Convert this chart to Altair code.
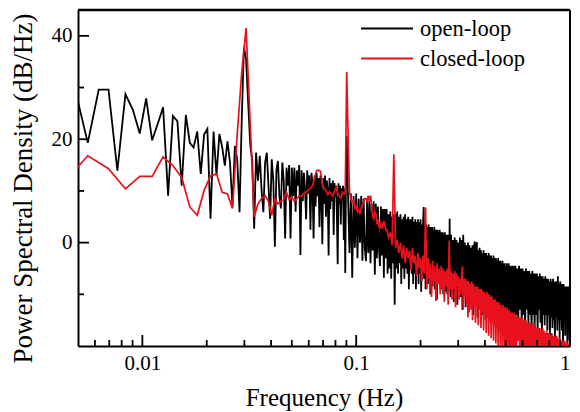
import altair as alt
import pandas as pd

# ---------------- data ----------------
# open-loop PSD, frequency bins k/1440 Hz
open_k_a = list(range(7, 60))
open_v_a = [29.4, 19.3, 29.6, 29.6, 13.9, 28.7, 25.7, 21.1, 27.9, 19.8,
            23.0, 26.2, 9.1, 24.5, 23.5, 11.0, 24.7, 19.3, 18.4, 21.5,
            13.3, 20.9, 22.0, 4.6, 21.5, 13.0, 21.0, 18.5, 14.9, 19.6,
            15.5, 7.0, 18.7, 16.0, 5.9, 24.0, 37.8, 35.5, 27.0, 19.0,
            16.0, 2.7, 17.4, 12.0, 16.8, 10.0, 5.9, 15.5, 17.4, 11.0,
            4.6, 16.1, 12.0]
open_k_b = list(range(60, 130))
open_v_b = [-0.8, 14, 15.8, 9, 6.6, 15.5, 12, 0.8, 14.5, 11,
            15, 0.8, 14.5, 9, 14.5, 6, 14, 11, 15, -2.4,
            14, 8, 13.5, 10.5, 4.5, 14, 9.5, 13, 2.5, 13.5,
            11, 0.8, 13, 7, 13.5, 9, 12.5, 3, 13, 9.5,
            -0.3, 12.5, 7.5, 13, 5, 12, 10, -2.5, 12.5, 6.5,
            11.5, 8, 12, 1.5, 11.5, 9, 11, 5, -4.2, 11.5,
            7.5, 11, 3.5, 10.5, 8.5, 11, 0.5, 10.5, -5.9, 12]
open_k_c = list(range(130, 200, 2))
open_v_c = [20.6, 8.5, -2.0, 9.5, -6.8, 9.0, -1.0, 9.5, -3.0, 8.5,
            0.0, 9.0, -3.5, 8.5, -1.0, -3.6, 8.5, -2.0, 8.0, -4.0,
            7.5, -1.5, 8.0, -6.2, 7.5, -3.0, 7.0, -1.0, -4.5, 7.0,
            -2.5, 6.5, -6.8, 6.5, -3.0]
open_k_d = list(range(200, 400, 2))
open_v_d = [6.5, -6, 5.5, -5, 6.0, -7, 5.0, -4, 5.5, -12,
            5.5, -5, 6.0, -6, 5.0, -4, 5.5, -8, 4.5, -5,
            5.0, -7, 5.5, -5, 4.5, -6, 5.0, -9, 4.5, -5,
            4.5, -6, 5.0, -8, 4.0, -6, 4.5, -9, 4.0, -6,
            4.5, -8, 4.0, -6, 4.5, -9.5, 3.5, -7, 4.0, 6.9,
            -7, 3.5, -9, 3.5, -7, 3.0, -8, 3.5, -6, 3.0,
            -10, 3.0, -7, 3.0, -8.5, 2.5, -7, 3.0, -9, 2.5,
            -7, 2.5, -11, 2.5, -8, 2.0, -8, 2.5, -7, 2.0,
            -9, 2.0, -8, 2.0, -10, 1.5, -8, 2.0, -9.5, 1.5,
            -8, 1.5, -10, 1.5, -8, 1.5, -9, 4.6, -8, -10.5]
open_k_e = list(range(400, 800, 4))
open_v_e = [1.5, -10, 0.5, -11.5, 1.0, -9, 0.5, -12, 0.0, -10,
            1.0, -10.5, 0.5, -13, 1.5, -10, 0.0, -12.5, -0.5, -11,
            0.0, -13.5, -0.5, -11, -1.0, -12, -0.5, -14, -1.0, 0.2,
            -12, -1.0, 0.1, -14.5, -1.5, -11, -1.0, -13, -1.5, -12,
            -2.0, -14, -1.5, -11, -2.0, -15, -2.0, -12, -2.5, -14,
            -2.0, -12, -2.5, -15.5, -2.5, -13, -3.0, -14.5, -2.5, -12.5,
            -3.0, -16, -3.0, -13, -3.5, -15, -3.0, -13, -3.5, -16.5,
            -3.5, -13.5, -4.0, -15.5, -3.5, -13, -4.0, -17, -4.0, -14,
            -4.5, -16, -4.0, -14, -4.5, -17.5, -4.0, -14.5, -4.5, -16.5,
            -4.5, -14, -5.0, -17, -4.5, -15, -5.0, -16, -4.5, -15]
open_k_f = list(range(800, 1441, 8))
open_v_f = [-4.5, -14, -5.0, -17, -4.5, -13, -5.0, -16.5, -5.0, -14,
            -5.5, -17.5, -5.0, -13, -5.5, -16, -5.5, -14, -6.0, -18,
            -5.5, -14, -6.0, -16.5, -6.0, -14, -6.0, -17.5, -6.5, -13,
            -6.0, -15.5, -6.5, -18, -6.5, -14, -7.0, -16, -6.5, -14,
            -7.0, -17, -7.0, -14, -7.5, -18.5, -7.0, -14.5, -7.5, -16.5,
            -7.0, -15, -7.5, -19, -7.5, -14.5, -7.5, -17, -6.5, -15,
            -8.0, -18.5, -7.5, -15, -8.0, -17, -8.0, -20.5, -8.0, -15,
            -8.5, -18, -8.5, -15.5, -8.5, -20.5, -8.5, -16, -8.5, -19,
            -8.5]

# closed-loop PSD, frequency bins j/720 Hz
closed_j_a = list(range(3, 30))
closed_v_a = [11, 16.8, 14.3, 10.4, 12.8, 12.8, 16.6, 14.9, 12.6, 6.9,
              5.3, 10.1, 12.9, 13.3, 9.75, 9.4, 6.6, 21, 33, 41.5,
              23, 5.0, 7.5, 8.5, 9.1, 8.0, 5.3]
closed_j_b = list(range(30, 100))
closed_v_b = [8.5, 7.5, 8.0, 8.3, 9.75, 8.3, 8.8, 8.0, 8.5, 9.1,
              9.0, 9.5, 9.75, 10.2, 10.5, 11.0, 12.5, 13.9, 14.0, 13.8,
              11.5, 10.4, 10.0, 9.3, 9.8, 9.4, 9.0, 9.9, 10.7, 9.5,
              9.1, 8.6, 9.75, 9.4, 9.5, 33.0, 21.0, 9.75, 8.5, 7.8,
              8.2, 6.6, 7.0, 6.0, 6.4, 5.5, 6.8, 7.5, 8.0, 8.5,
              8.5, 8.0, 9.1, 8.0, 9.1, 7.5, 5.0, 4.6, 6.0, 5.5,
              3.5, 4.5, 3.0, 4.0, 2.7, 3.5, 3.0, 4.2, 3.4, 2.5]
closed_j_c = list(range(100, 200, 2))
closed_v_c = [2.5, 1.0, 2.0, -0.5, 17.1, -1.0, 0.5, -2.0, 0.0, -3.0,
              -0.5, -4.0, -1.0, -3.0, -1.5, -5.5, -1.0, -4.0, -2.5, -6.5,
              -2.0, -5.0, -3.0, -7.5, -2.5, -6.0, 6.8, -9.0, -3.0, -7.0,
              -4.0, -10.5, -3.5, -7.5, -4.5, -11.3, -4.0, -8.0, -5.0, -10.0,
              -4.5, -9.0, -5.0, -11.5, -5.5, -8.5, -5.0, -12.0, 0.4, -9.0]
closed_j_d = list(range(200, 400, 2))
closed_v_d = [-5.5, -11, -6.0, -9, -5.5, -12.5, -6.0, -8.5, -6.5, -11,
              -7.0, -10, -6.5, -4.6, -13, -7.0, -10.5, -7.0, -12, -7.5,
              -14.5, -7.5, -11, -8.0, -13, -7.5, -15, -8.0, -12, -8.5,
              -15.5, -8.5, -12.5, -8.5, -16, -9.0, -13, -9.0, -16.5, -9.0,
              -13.5, -9.5, -17, -9.5, -14, -10.0, -17.5, -9.5, -14.5, -10.0,
              -18, -10.0, -15, -10.5, -18.5, -10.3, -15.5, -11.0, -19, -11.0,
              -16, -11.0, -19.5, -11.5, -16.5, -11.5, -20, -11.5, -17, -12.0,
              -20.5, -12.0, -17.5, -12.5, -21, -12.0, -18, -12.5, -21, -12.5,
              -18.5, -13.0, -21.5, -12.5, -19, -13.0, -22, -13.0, -19.5, -13.5,
              -22, -13.5, -20, -13.5, -22.5, -14.0, -20, -13.5, -23, -14.0]
closed_j_e = list(range(400, 721, 4))
closed_v_e = [-14.0, -21, -14.0, -19, -14.5, -22, -14.5, -20, -14.5, -22.5,
              -15.0, -20.5, -15.0, -23, -15.5, -21, -15.5, -23, -15.5, -21,
              -16.0, -23.5, -15.5, -21.5, -16.0, -24, -16.5, -21.5, -16.5, -24,
              -16.5, -22, -17.0, -24, -16.5, -22, -17.0, -24.5, -17.5, -22.5,
              -17.0, -25, -17.5, -22.5, -17.5, -25, -18.0, -23, -17.5, -25,
              -18.0, -23, -18.0, -25.5, -18.5, -23, -18.0, -25.5, -18.5, -23.5,
              -18.5, -26, -18.5, -23.5, -19.0, -26, -19.0, -24, -19.0, -26,
              -19.0, -24, -19.5, -26, -19.0, -24.5, -19.5, -26, -19.5, -24.5,
              -19.5]

series_names = ["open-loop", "closed-loop"]
series_colors = ["#000000", "#e8101a"]

x_major = [0.01, 0.1, 1]
x_minor = [0.006, 0.007, 0.008, 0.009, 0.02, 0.03, 0.04, 0.05, 0.06, 0.07,
           0.08, 0.09, 0.2, 0.3, 0.4, 0.5, 0.6, 0.7, 0.8, 0.9]
y_major = [0, 20, 40]
y_minor = [-10, 10, 30]
y_top = 45

# ---------------- tables ----------------
def build(pairs, n_bins, name):
    rows = []
    for ks, vs in pairs:
        for k, v in zip(ks, vs):
            rows.append({"f": k / n_bins, "psd": v, "series": name})
    return pd.DataFrame(rows)

open_df = build([(open_k_a, open_v_a), (open_k_b, open_v_b), (open_k_c, open_v_c),
                 (open_k_d, open_v_d), (open_k_e, open_v_e), (open_k_f, open_v_f)],
                1440, series_names[0])
closed_df = build([(closed_j_a, closed_v_a), (closed_j_b, closed_v_b), (closed_j_c, closed_v_c),
                   (closed_j_d, closed_v_d), (closed_j_e, closed_v_e)],
                  720, series_names[1])

W, H = 492, 336
FONT = "Liberation Serif"

xscale = alt.Scale(type="log", domain=[0.005, 1], nice=False)
yscale = alt.Scale(domain=[-20, y_top], nice=False, zero=False)

x_axis = alt.Axis(values=x_major, format=".2~f", title="Frequency (Hz)", grid=False,
                  ticks=False, domain=True, domainColor="black", domainWidth=2,
                  labelFont=FONT, labelFontSize=21,
                  labelColor="black", labelPadding=6, titleFont=FONT, titleFontSize=25,
                  titleFontWeight="normal", titleColor="black",
                  titleBaseline="alphabetic", titleY=59)
y_axis = alt.Axis(values=y_major, title="Power Spectral Density (dB/Hz)", grid=False,
                  ticks=False, domain=True, domainColor="black", domainWidth=2,
                  labelFont=FONT, labelFontSize=21,
                  labelColor="black", labelPadding=6, titleFont=FONT, titleFontSize=27,
                  titleFontWeight="normal", titleColor="black",
                  titleBaseline="bottom", titleX=-41, titleY=178)

color = alt.Color("series:N",
                  scale=alt.Scale(domain=series_names, range=series_colors),
                  legend=alt.Legend(title=None, orient="none", legendX=282, legendY=7,
                                    symbolType="stroke", symbolSize=2704,
                                    symbolStrokeWidth=1.8, clipHeight=23, rowPadding=7,
                                    labelFont=FONT, labelFontSize=22.5, labelColor="black",
                                    labelOffset=6, labelLimit=300, padding=0))

open_line = alt.Chart(open_df).mark_line(strokeWidth=1.8, clip=True).encode(
    x=alt.X("f:Q", scale=xscale, axis=x_axis),
    y=alt.Y("psd:Q", scale=yscale, axis=y_axis),
    color=color,
    order="f:Q",
)
closed_line = alt.Chart(closed_df).mark_line(strokeWidth=1.7, clip=True).encode(
    x=alt.X("f:Q", scale=xscale),
    y=alt.Y("psd:Q", scale=yscale),
    color=color,
    order="f:Q",
)

def xticks(vals, length):
    return alt.Chart(pd.DataFrame({"f": vals})).mark_rule(color="black", strokeWidth=1.8).encode(
        x=alt.X("f:Q", scale=xscale), y=alt.value(H), y2=alt.value(H - length))

def yticks(vals, length):
    return alt.Chart(pd.DataFrame({"psd": vals})).mark_rule(color="black", strokeWidth=1.8).encode(
        y=alt.Y("psd:Q", scale=yscale), x=alt.value(0), x2=alt.value(length))

# top frame line drawn through the y scale at the top of the value range
top_edge = alt.Chart(pd.DataFrame({"psd": [y_top]})).mark_rule(color="black", strokeWidth=2.5).encode(
    y=alt.Y("psd:Q", scale=yscale), x=alt.value(0), x2=alt.value(W))
right_edge = alt.Chart(pd.DataFrame({"f": [1.0]})).mark_rule(color="black", strokeWidth=2).encode(
    x=alt.X("f:Q", scale=xscale), y=alt.value(0), y2=alt.value(H))

chart = alt.layer(
    open_line, closed_line,
    xticks(x_major, 11), xticks(x_minor, 6),
    yticks(y_major, 11), yticks(y_minor, 6),
    top_edge, right_edge,
).properties(
    width=W, height=H,
    autosize=alt.AutoSizeParams(type="none"),
    padding={"left": 70, "top": 2, "right": 2, "bottom": 66},
).configure_view(stroke="black", strokeWidth=2).configure(background="white")

chart.save("out.html", embed_options={"renderer": "svg", "actions": False})
